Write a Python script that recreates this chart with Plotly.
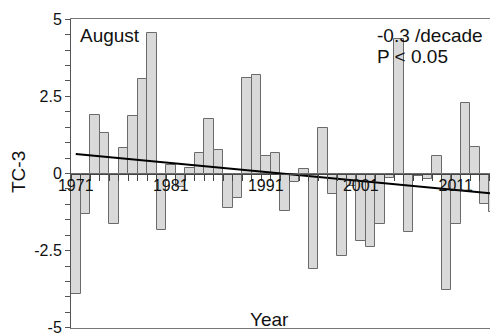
import plotly.graph_objects as go

years = list(range(1971, 2016))
tc3 = [-3.9, -1.31, 1.9, 1.32, -1.63, 0.82, 1.85, 3.07, 4.55, -1.84,
       0.29, -0.44, 0.18, 0.68, 1.78, 0.77, -1.13, -0.80, 3.09, 3.2,
       0.58, 0.66, -1.2, -0.26, 0.15, -3.09, 1.48, -0.66, -2.66, -0.42,
       -2.18, -2.37, -1.63, -0.13, 4.37, -1.9, -0.09, -0.17, 0.58, -3.77,
       -1.63, 2.28, 0.85, -1.0, -1.26]
trend_years = [1971, 2015]
trend_values = [0.63, -0.65]
x_tick_vals = [1971, 1981, 1991, 2001, 2011]
x_tick_text = ["1971", "1981", "1991", "2001", "2011"]
y_tick_vals = [5, 2.5, 0, -2.5, -5]
y_tick_text = ["5", "2.5", "0", "-2.5", "-5"]

# The page body has an 8px default margin; figure is sized/offset for it.
OFF = 8
W, H = 498 - OFF, 334 - OFF
ML, MR, MT, MB = 71 - OFF, 0, 19 - OFF, 6
PW, PH = W - ML - MR, H - MT - MB


def px(x):
    return (x - OFF - ML) / PW


def py(y):
    return 1 - (y - OFF - MT) / PH


FONT = "Liberation Sans, Arial, sans-serif"
TXT = "#111111"
XR = [1970.5, 1970.5 + PW / 9.5]

fig = go.Figure()
fig.add_trace(go.Bar(
    x=years, y=tc3, width=1.0,
    marker=dict(color="#d9d9d9", line=dict(color="#6a6a6a", width=1)),
    showlegend=False,
))
fig.add_trace(go.Scatter(
    x=trend_years, y=trend_values, mode="lines", xaxis="x2",
    line=dict(color="black", width=2), showlegend=False,
))

fig.update_layout(
    width=W, height=H,
    margin=dict(l=ML, r=MR, t=MT, b=MB, autoexpand=False),
    paper_bgcolor="white", plot_bgcolor="white",
    font=dict(family=FONT, color=TXT, size=16),
    bargap=0,
    xaxis=dict(
        range=XR,
        anchor="free", position=0.5, automargin=False,
        tickmode="array", tickvals=x_tick_vals, ticktext=x_tick_text,
        ticks="", showgrid=False, zeroline=False, ticklabelstandoff=-3,
        showline=True, linecolor="#444444", linewidth=1,
        tickfont=dict(size=16, color=TXT),
        minor=dict(tick0=1970.5, dtick=1, ticks="outside", ticklen=6,
                   tickcolor="#444444", showgrid=False),
    ),
    xaxis2=dict(
        overlaying="x", anchor="y", side="bottom", automargin=False,
        range=XR,
        showline=True, mirror=True, linecolor="#777777", linewidth=1,
        ticks="", showticklabels=False, showgrid=False, zeroline=False,
    ),
    yaxis=dict(
        range=[-5.005, 5.005], automargin=False, ticklabeloverflow="allow",
        tickmode="array", tickvals=y_tick_vals, ticktext=y_tick_text,
        ticks="outside", ticklen=5, tickcolor="#555555",
        showline=True, linecolor="#555555", linewidth=1,
        showgrid=False, zeroline=False,
        tickfont=dict(size=16, color=TXT),
        minor=dict(dtick=0.5, ticks="outside", ticklen=5, tickcolor="#555555",
                   showgrid=False),
    ),
    annotations=[
        dict(text="TC-3", xref="paper", yref="paper", x=px(18), y=py(172),
             textangle=-90, showarrow=False, font=dict(size=19, color=TXT),
             xanchor="center", yanchor="middle"),
        dict(text="Year", xref="paper", yref="paper", x=px(269), y=py(319),
             showarrow=False, font=dict(size=19, color=TXT),
             xanchor="center", yanchor="middle"),
        dict(text="August", xref="paper", yref="paper", x=px(78), y=py(35),
             showarrow=False, font=dict(size=19, color=TXT),
             xanchor="left", yanchor="middle"),
        dict(text="-0.3 /decade", xref="paper", yref="paper", x=px(375), y=py(35),
             showarrow=False, font=dict(size=19, color=TXT),
             xanchor="left", yanchor="middle"),
        dict(text="P < 0.05", xref="paper", yref="paper", x=px(375), y=py(57),
             showarrow=False, font=dict(size=19, color=TXT),
             xanchor="left", yanchor="middle"),
    ],
)

fig.write_html("out.html")
